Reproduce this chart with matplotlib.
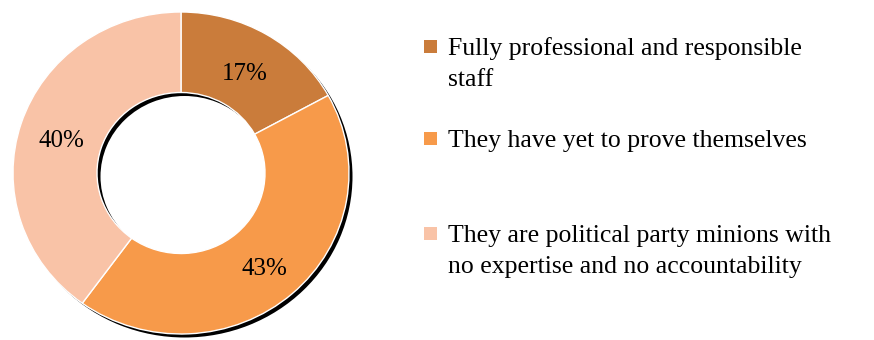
import matplotlib
matplotlib.use("Agg")
import matplotlib.pyplot as plt
from matplotlib.patches import Wedge, Rectangle
from matplotlib import transforms

# Survey responses (share of respondents, %)
categories = [
    "Fully professional and responsible\nstaff",
    "They have yet to prove themselves",
    "They are political party minions with\nno expertise and no accountability",
]
shares = [17, 43, 40]
colors = ["#CA7C3B", "#F79A4A", "#F9C3A7"]

W, H, DPI = 874, 340, 100
plt.rcParams["font.family"] = ["Liberation Serif", "DejaVu Serif"]

fig = plt.figure(figsize=(W / DPI, H / DPI), dpi=DPI)

# Donut axes: centre and radii in pixels, slightly wider than tall
cx, cy = 181, 340 - 173
rx, ry = 168, 161
m = 1.04
ax = fig.add_axes([(cx - rx * m) / W, (cy - ry * m) / H, 2 * rx * m / W, 2 * ry * m / H])

ring_width = 0.5

# Drop shadow of the ring, offset down-right
shadow_tr = transforms.offset_copy(ax.transData, fig=fig, x=3.5, y=-3.5, units="dots")
ax.add_patch(Wedge((0, 0), 1.0, 0, 360, width=ring_width, facecolor="black",
                   edgecolor="none", transform=shadow_tr, zorder=0))

wedges, texts, autotexts = ax.pie(
    shares,
    colors=colors,
    startangle=90,
    counterclock=False,
    radius=1.0,
    autopct=lambda p: f"{p:.0f}%",
    pctdistance=0.75,
    wedgeprops=dict(width=ring_width, edgecolor="white", linewidth=1.0),
    textprops=dict(fontsize=18, color="black"),
    frame=True,
)
for w in wedges:
    w.set_zorder(1)
label_shift = transforms.ScaledTranslation(0, -5 / DPI, fig.dpi_scale_trans)
for t in autotexts:
    t.set_zorder(2)
    t.set_transform(ax.transData + label_shift)
ax.set_xlim(-m, m)
ax.set_ylim(-m, m)
ax.set_aspect("auto")
ax.axis("off")

# Legend drawn on the figure
first_baselines = [55, 147, 242]
line_step = 31
sq_x, sq_size = 424, 13
text_x = 448
for label, color, base in zip(categories, colors, first_baselines):
    sq_top = base - 9 - sq_size / 2
    fig.patches.append(Rectangle((sq_x / W, 1 - (sq_top + sq_size) / H), sq_size / W, sq_size / H,
                                 transform=fig.transFigure, facecolor=color, edgecolor="none"))
    for j, line in enumerate(label.split("\n")):
        fig.text(text_x / W, 1 - (base + j * line_step) / H, line,
                 fontsize=18.5, va="baseline", ha="left", color="black")

fig.savefig("out.png", dpi=DPI, facecolor="white")
